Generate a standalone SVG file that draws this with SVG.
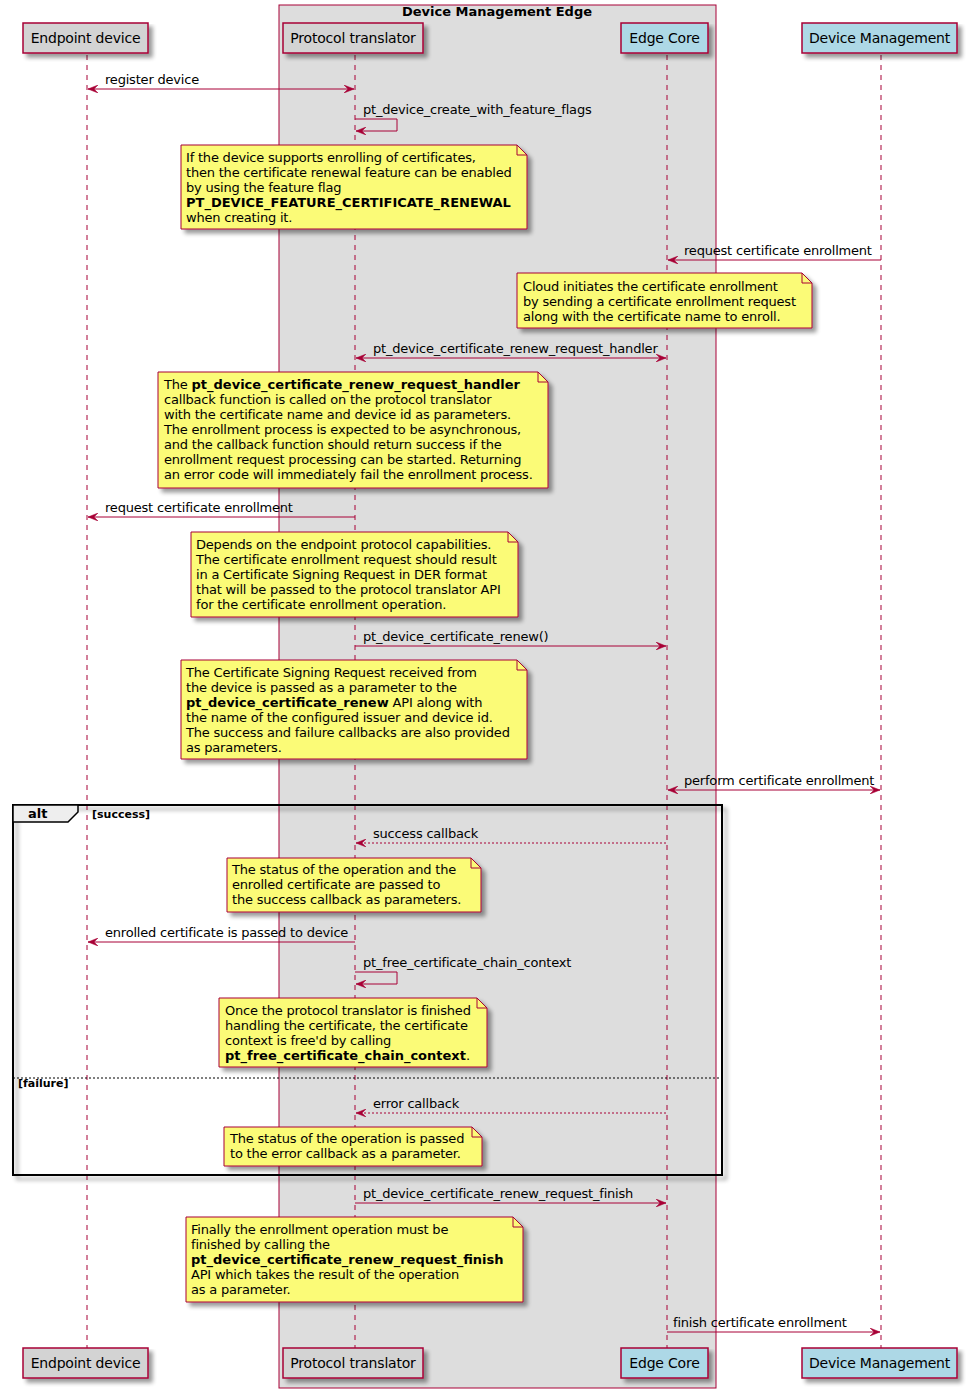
<svg xmlns="http://www.w3.org/2000/svg" width="968" height="1399" viewBox="0 0 968 1399">
<style>
text{font-family:"DejaVu Sans","Liberation Sans",sans-serif;fill:#000;letter-spacing:-0.2px}
.msg{font-size:13px}
.nt{font-size:13px}
.b{font-weight:bold;letter-spacing:0}
.pt{font-size:14px;text-anchor:middle}
.life{stroke:#A80036;stroke-width:1;stroke-dasharray:5,5;fill:none}
.ln{stroke:#A80036;stroke-width:1;fill:none}
.dash{stroke:#A80036;stroke-width:1;stroke-dasharray:2,2;fill:none}
.grey{fill:#D3D3D3;stroke:#A80036;stroke-width:1.5}
.blue{fill:#ADD8E6;stroke:#A80036;stroke-width:1.5}
.note{fill:#FBFB77;stroke:#A80036;stroke-width:1}
</style>
<defs>
<filter id="sh" x="-10%" y="-10%" width="130%" height="140%">
<feGaussianBlur in="SourceAlpha" stdDeviation="2"/>
<feOffset dx="4" dy="4" result="o"/>
<feComponentTransfer><feFuncA type="linear" slope="0.4"/></feComponentTransfer>
<feMerge><feMergeNode/><feMergeNode in="SourceGraphic"/></feMerge>
</filter>
<marker id="ar" viewBox="0 0 10 8" refX="10" refY="4" markerWidth="10" markerHeight="8" orient="auto-start-reverse" markerUnits="userSpaceOnUse">
<path d="M0,0 L10,4 L0,8 L4,4 Z" fill="#A80036" stroke="#A80036" stroke-width="0.5"/>
</marker>
</defs>
<rect width="968" height="1399" fill="#fff"/>

<g id="box-edge">
<rect x="279" y="5" width="437" height="1383" fill="#DDDDDD" stroke="#A80036" stroke-width="1"/>
<text x="497" y="16" class="msg b" text-anchor="middle">Device Management Edge</text>
</g>

<g id="lifelines">
<line class="life" x1="87" y1="55" x2="87" y2="1348"/>
<line class="life" x1="355" y1="55" x2="355" y2="1348"/>
<line class="life" x1="667" y1="55" x2="667" y2="1348"/>
<line class="life" x1="881" y1="55" x2="881" y2="1348"/>
</g>

<g id="p-endpoint">
<rect class="grey" x="23" y="23" width="125" height="30" filter="url(#sh)"/>
<text class="pt" x="85.5" y="43">Endpoint device</text>
<rect class="grey" x="23" y="1348" width="125" height="30" filter="url(#sh)"/>
<text class="pt" x="85.5" y="1368">Endpoint device</text>
</g>
<g id="p-translator">
<rect class="grey" x="283" y="23" width="140" height="30" filter="url(#sh)"/>
<text class="pt" x="353" y="43">Protocol translator</text>
<rect class="grey" x="283" y="1348" width="140" height="30" filter="url(#sh)"/>
<text class="pt" x="353" y="1368">Protocol translator</text>
</g>
<g id="p-edgecore">
<rect class="blue" x="621" y="23" width="87" height="30" filter="url(#sh)"/>
<text class="pt" x="664.5" y="43">Edge Core</text>
<rect class="blue" x="621" y="1348" width="87" height="30" filter="url(#sh)"/>
<text class="pt" x="664.5" y="1368">Edge Core</text>
</g>
<g id="p-devmgmt">
<rect class="blue" x="802" y="23" width="155" height="30" filter="url(#sh)"/>
<text class="pt" x="879.5" y="43">Device Management</text>
<rect class="blue" x="802" y="1348" width="155" height="30" filter="url(#sh)"/>
<text class="pt" x="879.5" y="1368">Device Management</text>
</g>

<g id="alt-frame">
<rect x="13" y="805" width="709" height="370" fill="none" stroke="#000" stroke-width="2" filter="url(#sh)"/>
<path d="M13,805 L78,805 L78,812 L68,822 L13,822 Z" fill="#EEEEEE" stroke="#000" stroke-width="1.5"/>
<text x="28" y="818" class="msg b">alt</text>
<text x="92" y="818" font-size="11" class="b">[success]</text>
<line x1="13" y1="1078" x2="722" y2="1078" stroke="#000" stroke-width="1" stroke-dasharray="2,2"/>
<text x="18" y="1087" font-size="11" class="b">[failure]</text>
</g>

<g id="connectors">
<line class="ln" x1="88" y1="89" x2="354" y2="89" marker-start="url(#ar)" marker-end="url(#ar)"/>
<text class="msg" x="105" y="84">register device</text>

<path class="ln" d="M355,119 L397,119 L397,131 L356,131" marker-end="url(#ar)"/>
<text class="msg" x="363" y="114">pt_device_create_with_feature_flags</text>

<line class="ln" x1="881" y1="260" x2="668" y2="260" marker-end="url(#ar)"/>
<text class="msg" x="684" y="255">request certificate enrollment</text>

<line class="ln" x1="356" y1="358" x2="666" y2="358" marker-start="url(#ar)" marker-end="url(#ar)"/>
<text class="msg" x="373" y="353">pt_device_certificate_renew_request_handler</text>

<line class="ln" x1="355" y1="517" x2="88" y2="517" marker-end="url(#ar)"/>
<text class="msg" x="105" y="512">request certificate enrollment</text>

<line class="ln" x1="355" y1="646" x2="666" y2="646" marker-end="url(#ar)"/>
<text class="msg" x="363" y="641">pt_device_certificate_renew()</text>

<line class="ln" x1="668" y1="790" x2="880" y2="790" marker-start="url(#ar)" marker-end="url(#ar)"/>
<text class="msg" x="684" y="785">perform certificate enrollment</text>

<line class="dash" x1="666" y1="843" x2="356" y2="843" marker-end="url(#ar)"/>
<text class="msg" x="373" y="838">success callback</text>

<line class="ln" x1="355" y1="942" x2="88" y2="942" marker-end="url(#ar)"/>
<text class="msg" x="105" y="937">enrolled certificate is passed to device</text>

<path class="ln" d="M355,972 L397,972 L397,984 L356,984" marker-end="url(#ar)"/>
<text class="msg" x="363" y="967">pt_free_certificate_chain_context</text>

<line class="dash" x1="666" y1="1113" x2="356" y2="1113" marker-end="url(#ar)"/>
<text class="msg" x="373" y="1108">error callback</text>

<line class="ln" x1="355" y1="1203" x2="666" y2="1203" marker-end="url(#ar)"/>
<text class="msg" x="363" y="1198">pt_device_certificate_renew_request_finish</text>

<line class="ln" x1="667" y1="1332" x2="880" y2="1332" marker-end="url(#ar)"/>
<text class="msg" x="673" y="1327">finish certificate enrollment</text>
</g>

<g id="note1">
<path class="note" filter="url(#sh)" d="M181,145 L517,145 L527,155 L527,229 L181,229 Z"/>
<path class="ln" d="M517,145 L517,155 L527,155"/>
<text class="nt" x="186" y="162">If the device supports enrolling of certificates,</text>
<text class="nt" x="186" y="177">then the certificate renewal feature can be enabled</text>
<text class="nt" x="186" y="192">by using the feature flag</text>
<text class="nt b" x="186" y="207">PT_DEVICE_FEATURE_CERTIFICATE_RENEWAL</text>
<text class="nt" x="186" y="222">when creating it.</text>
</g>

<g id="note2">
<path class="note" filter="url(#sh)" d="M517,273 L802,273 L812,283 L812,328 L517,328 Z"/>
<path class="ln" d="M802,273 L802,283 L812,283"/>
<text class="nt" x="523" y="291">Cloud initiates the certificate enrollment</text>
<text class="nt" x="523" y="306">by sending a certificate enrollment request</text>
<text class="nt" x="523" y="321">along with the certificate name to enroll.</text>
</g>

<g id="note3">
<path class="note" filter="url(#sh)" d="M158,372 L538,372 L548,382 L548,488 L158,488 Z"/>
<path class="ln" d="M538,372 L538,382 L548,382"/>
<text class="nt" x="164" y="389">The <tspan class="b">pt_device_certificate_renew_request_handler</tspan></text>
<text class="nt" x="164" y="404">callback function is called on the protocol translator</text>
<text class="nt" x="164" y="419">with the certificate name and device id as parameters.</text>
<text class="nt" x="164" y="434">The enrollment process is expected to be asynchronous,</text>
<text class="nt" x="164" y="449">and the callback function should return success if the</text>
<text class="nt" x="164" y="464">enrollment request processing can be started. Returning</text>
<text class="nt" x="164" y="479">an error code will immediately fail the enrollment process.</text>
</g>

<g id="note4">
<path class="note" filter="url(#sh)" d="M191,532 L508,532 L518,542 L518,617 L191,617 Z"/>
<path class="ln" d="M508,532 L508,542 L518,542"/>
<text class="nt" x="196" y="549">Depends on the endpoint protocol capabilities.</text>
<text class="nt" x="196" y="564">The certificate enrollment request should result</text>
<text class="nt" x="196" y="579">in a Certificate Signing Request in DER format</text>
<text class="nt" x="196" y="594">that will be passed to the protocol translator API</text>
<text class="nt" x="196" y="609">for the certificate enrollment operation.</text>
</g>

<g id="note5">
<path class="note" filter="url(#sh)" d="M181,660 L517,660 L527,670 L527,759 L181,759 Z"/>
<path class="ln" d="M517,660 L517,670 L527,670"/>
<text class="nt" x="186" y="677">The Certificate Signing Request received from</text>
<text class="nt" x="186" y="692">the device is passed as a parameter to the</text>
<text class="nt" x="186" y="707"><tspan class="b">pt_device_certificate_renew</tspan> API along with</text>
<text class="nt" x="186" y="722">the name of the configured issuer and device id.</text>
<text class="nt" x="186" y="737">The success and failure callbacks are also provided</text>
<text class="nt" x="186" y="752">as parameters.</text>
</g>

<g id="note6">
<path class="note" filter="url(#sh)" d="M227,858 L471,858 L481,868 L481,912 L227,912 Z"/>
<path class="ln" d="M471,858 L471,868 L481,868"/>
<text class="nt" x="232" y="874">The status of the operation and the</text>
<text class="nt" x="232" y="889">enrolled certificate are passed to</text>
<text class="nt" x="232" y="904">the success callback as parameters.</text>
</g>

<g id="note7">
<path class="note" filter="url(#sh)" d="M219,998 L477,998 L487,1008 L487,1067 L219,1067 Z"/>
<path class="ln" d="M477,998 L477,1008 L487,1008"/>
<text class="nt" x="225" y="1015">Once the protocol translator is finished</text>
<text class="nt" x="225" y="1030">handling the certificate, the certificate</text>
<text class="nt" x="225" y="1045">context is free'd by calling</text>
<text class="nt" x="225" y="1060"><tspan class="b">pt_free_certificate_chain_context</tspan>.</text>
</g>

<g id="note8">
<path class="note" filter="url(#sh)" d="M224,1127 L472,1127 L482,1137 L482,1166 L224,1166 Z"/>
<path class="ln" d="M472,1127 L472,1137 L482,1137"/>
<text class="nt" x="230" y="1143">The status of the operation is passed</text>
<text class="nt" x="230" y="1158">to the error callback as a parameter.</text>
</g>

<g id="note9">
<path class="note" filter="url(#sh)" d="M186,1217 L513,1217 L523,1227 L523,1302 L186,1302 Z"/>
<path class="ln" d="M513,1217 L513,1227 L523,1227"/>
<text class="nt" x="191" y="1234">Finally the enrollment operation must be</text>
<text class="nt" x="191" y="1249">finished by calling the</text>
<text class="nt b" x="191" y="1264">pt_device_certificate_renew_request_finish</text>
<text class="nt" x="191" y="1279">API which takes the result of the operation</text>
<text class="nt" x="191" y="1294">as a parameter.</text>
</g>
</svg>
